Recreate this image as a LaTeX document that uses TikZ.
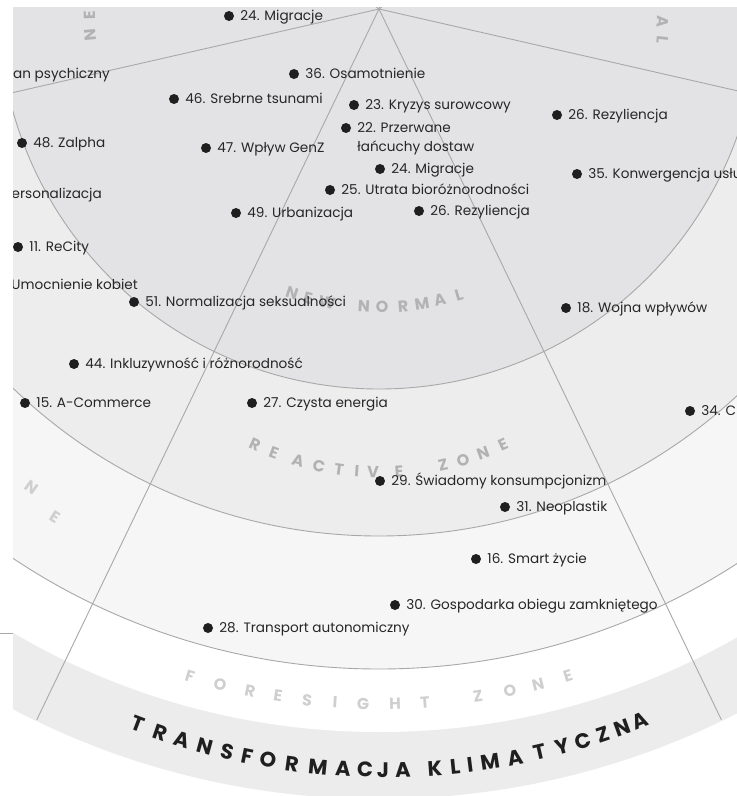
\documentclass[tikz,border=0pt]{standalone}
\usepackage{fontspec}
\setmainfont{Poppins}
\usetikzlibrary{positioning}

\definecolor{innergray}{HTML}{E3E3E5}
\definecolor{reactgray}{HTML}{EDEDED}
\definecolor{outergray}{HTML}{F6F6F6}
\definecolor{bandgray}{HTML}{ECECEC}
\definecolor{linegray}{HTML}{A8A8A8}
\definecolor{zonegray}{HTML}{B2B2B4}
\definecolor{zonelight}{HTML}{CFCFCF}

\tikzset{
  trenddot/.style={circle,fill=black!88,inner sep=0pt,minimum size=10pt},
  trendtext/.style={inner sep=0pt,text height=11pt,text depth=2pt,
    font=\fontsize{13.6}{16}\selectfont,text=black!85},
  zoneletter/.style={inner sep=0pt,font=\fontsize{16}{18}\selectfont\bfseries,text=zonegray},
  climateletter/.style={inner sep=0pt,font=\fontsize{21}{24}\selectfont\bfseries,text=black!88},
  ring/.style={draw=linegray,line width=0.9pt},
  spoke/.style={linegray,line width=0.9pt}
}

\begin{document}
\begin{tikzpicture}[x=1pt,y=1pt]%[scale=1]
  \newcommand{\trend}[4]{%
    \node[trenddot] (#1) at (#2,-#3) {};
    \node[trendtext,right=6pt of #1] (#1-t) {#4};}
  \newcommand{\ringword}[6]{%
    \foreach \ch/\lx [count=\i] in {#6}{%
      \pgfmathsetmacro{\ang}{asin((\lx-#2)/#4)}%
      \pgfmathsetmacro{\pa}{\ang-90}%
      \node[#5,rotate=\ang] (#1\i) at ([shift={(#2,-#3)}]\pa:#4) {\ch};}}
  \useasboundingbox (0,0) rectangle (737,-796);
  \coordinate (C) at (379,-9);
  \draw[ring] (0,-633) -- (13,-633);
  \begin{scope}
    \clip (13,-7) rectangle (737,-796);
    % rings
    \fill[bandgray] (C) circle (790);
    \fill[white] (C) circle (723);
    \draw[ring,fill=outergray] (C) circle (660);
    \draw[ring,fill=reactgray] (C) circle (527);
    \draw[ring,fill=innergray] (C) circle (380);
    \foreach \a in {0,...,6}
      \draw[spoke] (C) -- ++({-12.86+\a*51.43}:789);
    % zone names
    \ringword{nn}{379}{29}{278}{zoneletter}{N/292,E/308,W/327,N/364,O/382,R/403,M/422,A/440,L/459}
    \ringword{rz}{379}{174}{298}{zoneletter}{R/255,E/274,A/298,C/319,T/339,I/357,V/373,E/399,Z/443,O/463,N/483,E/503}
    \ringword{fz}{379}{52}{652}{zoneletter,text=zonelight}{F/190,O/220,R/250,E/278,S/307,I/335,G/363,H/395,T/425,Z/478,O/510,N/538,E/568}
    \ringword{tk}{385}{80}{690}{climateletter}{T/138,R/160,A/182,N/205,S/227,F/247,O/268,R/292,M/318,A/343,C/365,J/383,A/403,K/435,L/455,I/470,M/490,A/515,T/540,Y/562,C/583,Z/603,N/622,A/640}
    \node[zoneletter,rotate=95] (tl1) at (90,-35) {N};
    \node[zoneletter,rotate=91] (tl2) at (90,-15) {E};
    \node[zoneletter,rotate=-93] (tr1) at (663,-22) {A};
    \node[zoneletter,rotate=-96] (tr2) at (663,-40) {L};
    \node[zoneletter,text=zonelight,rotate=-36] (lb1) at (32,-487) {N};
    \node[zoneletter,text=zonelight,rotate=-32] (lb2) at (55,-517) {E};
    % trends
    \node[trendtext,anchor=east] (psy) at (110,-74) {stan psychiczny};
    \node[trendtext,anchor=east] (pers) at (102,-194) {personalizacja};
    \node[trendtext,anchor=east] (kob) at (138,-285) {Umocnienie kobiet};
    \trend{m24a}{229}{16}{24. Migracje}
    \trend{o36}{294}{74}{36. Osamotnienie}
    \trend{s46}{174}{99}{46. Srebrne tsunami}
    \trend{k23}{354}{105}{23. Kryzys surowcowy}
    \trend{r26a}{557}{115}{26. Rezyliencja}
    \trend{p22}{346}{128}{22. Przerwane}
    \node[trendtext,anchor=west] (p22-t2) at ([yshift=-19pt]p22-t.west) {łańcuchy dostaw};
    \trend{z48}{22}{143}{48. Zalpha}
    \trend{w47}{206}{148}{47. Wpływ GenZ}
    \trend{m24b}{380}{169}{24. Migracje}
    \trend{k35}{577}{174}{35. Konwergencja usług}
    \trend{u25}{330}{190}{25. Utrata bioróżnorodności}
    \trend{u49}{236}{213}{49. Urbanizacja}
    \trend{r26b}{419}{211}{26. Rezyliencja}
    \trend{r11}{18}{247}{11. ReCity}
    \trend{n51}{134}{302}{51. Normalizacja seksualności}
    \trend{w18}{566}{308}{18. Wojna wpływów}
    \trend{i44}{74}{364}{44. Inkluzywność i różnorodność}
    \trend{a15}{25}{403}{15. A-Commerce}
    \trend{c27}{252}{403}{27. Czysta energia}
    \trend{c34}{690}{411}{34. C}
    \trend{s29}{380}{481}{29. Świadomy konsumpcjonizm}
    \trend{n31}{505}{507}{31. Neoplastik}
    \trend{s16}{476}{559}{16. Smart życie}
    \trend{g30}{395}{605}{30. Gospodarka obiegu zamkniętego}
    \trend{t28}{208}{628}{28. Transport autonomiczny}
  \end{scope}
\end{tikzpicture}
\end{document}
